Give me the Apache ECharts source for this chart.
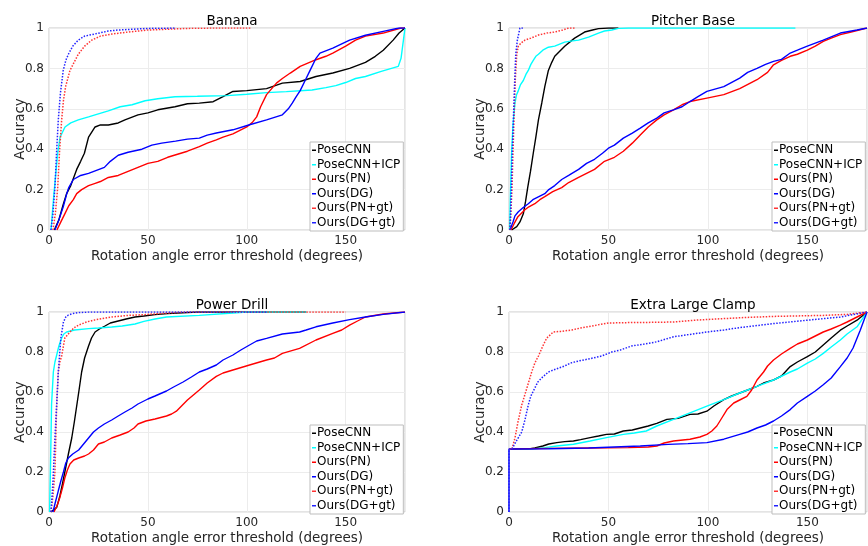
<!DOCTYPE html>
<html>
<head>
<meta charset="utf-8">
<script src="https://cdn.jsdelivr.net/npm/echarts@6/dist/echarts.min.js"></script>
<style>
html,body{margin:0;padding:0;background:#fff;}
#chart{width:868px;height:546px;}
</style>
</head>
<body>
<div id="chart"></div>
<script>
// ---- Data (x = rotation error threshold in degrees, y = accuracy) ----
const seriesNames = ['PoseCNN','PoseCNN+ICP','Ours(PN)','Ours(DG)','Ours(PN+gt)','Ours(DG+gt)'];
const panelTitles = ['Banana','Pitcher Base','Power Drill','Extra Large Clamp'];
const xTicks = [0, 50, 100, 150];
const yTicks = [0, 0.2, 0.4, 0.6, 0.8, 1];

// Banana
const banana_PoseCNN = [[2.7,0],[5,0.05],[7,0.12],[8.9,0.18],[11,0.22],[14,0.30],[16,0.34],[17.9,0.38],[20,0.46],[23.3,0.51],[26,0.52],[30,0.52],[35,0.53],[38.4,0.545],[45,0.57],[50,0.58],[55,0.595],[63.7,0.61],[70,0.625],[76,0.628],[83,0.635],[88,0.66],[93,0.686],[100,0.69],[110,0.70],[118,0.727],[127,0.735],[135,0.76],[143.5,0.777],[152,0.80],[160,0.83],[165,0.86],[169,0.89],[174,0.94],[177,0.975],[180,1]];
const banana_PoseCNNICP = [[1,0],[2.5,0.18],[4.4,0.38],[5.6,0.46],[8.1,0.51],[11,0.53],[14.8,0.545],[20,0.56],[23.3,0.57],[30,0.59],[36,0.61],[42,0.62],[48.6,0.64],[55,0.65],[63.7,0.66],[75,0.662],[90,0.665],[100,0.672],[110,0.68],[120,0.685],[133,0.693],[140,0.705],[145,0.715],[150,0.73],[155,0.75],[160,0.76],[168,0.785],[176.6,0.81],[178,0.85],[180,1]];
const banana_PN = [[4,0],[6,0.04],[8,0.08],[10,0.12],[12.3,0.15],[14,0.18],[16.5,0.20],[20,0.22],[23,0.23],[26,0.24],[30,0.26],[35,0.27],[40,0.29],[45,0.31],[50,0.33],[55,0.34],[60,0.36],[65,0.375],[70,0.39],[76,0.413],[80,0.43],[84.6,0.446],[88,0.46],[93,0.476],[100,0.51],[103,0.535],[105,0.56],[107,0.61],[110,0.67],[115,0.727],[118,0.75],[122,0.777],[127,0.81],[135,0.843],[140,0.86],[143.5,0.876],[150,0.91],[155,0.94],[160,0.96],[169,0.975],[178,1],[180,1]];
const banana_DG = [[3,0],[5,0.05],[7.2,0.115],[9,0.18],[10,0.21],[12.3,0.25],[16,0.27],[20,0.28],[24,0.295],[28,0.31],[31,0.34],[35,0.37],[40,0.385],[47,0.40],[52,0.42],[57,0.43],[64,0.44],[70,0.45],[76,0.455],[80,0.47],[84.6,0.48],[93,0.496],[101,0.52],[110,0.545],[118,0.57],[121,0.60],[123,0.628],[125,0.66],[127,0.69],[130,0.75],[132,0.79],[135,0.85],[137,0.876],[143.5,0.90],[152,0.94],[160,0.964],[169,0.983],[177,1],[180,1]];
const banana_PNgt = [[2,0],[3.2,0.08],[4.4,0.21],[5.4,0.40],[6.4,0.545],[7.3,0.64],[8.4,0.71],[10.6,0.79],[14.8,0.87],[18,0.91],[21.6,0.94],[26,0.96],[31.7,0.97],[40,0.98],[50,0.99],[70,0.998],[85,1],[102,1]];
const banana_DGgt = [[1,0],[2,0.08],[3,0.21],[3.8,0.38],[4.7,0.545],[5.8,0.68],[7.2,0.79],[8.5,0.84],[9.8,0.87],[12,0.91],[14.8,0.94],[18,0.96],[23,0.97],[30,0.985],[35,0.99],[50,0.998],[64,1]];

// Pitcher Base
const pitcher_PoseCNN = [[1.3,0],[3.9,0.017],[5.5,0.04],[7.2,0.08],[8.3,0.14],[9.4,0.21],[10.8,0.29],[12.2,0.38],[13.5,0.46],[14.8,0.545],[16.5,0.63],[18,0.71],[19.8,0.79],[21.5,0.83],[23,0.86],[25.5,0.885],[28,0.91],[30.5,0.93],[33,0.95],[35.5,0.965],[38,0.98],[42,0.99],[45,0.997],[50,1],[55,1]];
const pitcher_PoseCNNICP = [[0.3,0],[0.8,0.2],[1.3,0.38],[2,0.52],[3,0.63],[3.8,0.67],[4.7,0.69],[5.8,0.72],[7.2,0.74],[8.5,0.77],[9.7,0.79],[11,0.82],[12.2,0.84],[13.5,0.86],[14.8,0.87],[17,0.89],[19.8,0.905],[23,0.91],[28,0.93],[31,0.935],[35,0.94],[40,0.955],[45,0.975],[48,0.985],[51.7,0.99],[55,0.998],[60,1],[144,1]];
const pitcher_PN = [[1,0],[2.5,0.03],[4.5,0.066],[8,0.10],[10,0.115],[13,0.13],[15.5,0.15],[18,0.165],[22,0.19],[26.5,0.21],[30,0.235],[35,0.26],[39,0.28],[43,0.30],[48,0.34],[53,0.36],[57.5,0.39],[62,0.43],[66,0.47],[70,0.51],[74.3,0.545],[78,0.57],[82.7,0.595],[87,0.62],[91,0.636],[99.5,0.653],[108,0.67],[116,0.70],[124.7,0.744],[130,0.78],[133,0.818],[137,0.84],[141.4,0.86],[145,0.87],[150,0.89],[154,0.91],[158,0.934],[162,0.95],[166.6,0.967],[172,0.98],[180,1]];
const pitcher_DG = [[0.5,0],[2,0.04],[3,0.07],[4.7,0.09],[7,0.11],[9.7,0.13],[12,0.15],[15,0.165],[18,0.18],[20,0.20],[23,0.22],[26.5,0.25],[30,0.27],[35,0.30],[39,0.33],[43,0.35],[47,0.38],[50,0.405],[53,0.42],[57.5,0.455],[62,0.48],[66,0.504],[70,0.53],[74.3,0.554],[78,0.58],[82.7,0.595],[87,0.61],[91,0.636],[95,0.66],[99.5,0.686],[108,0.71],[116,0.752],[120,0.78],[124.7,0.80],[129,0.82],[133,0.835],[137,0.845],[141.4,0.876],[145,0.89],[150,0.91],[158,0.94],[166.6,0.975],[175,0.99],[180,1]];
const pitcher_PNgt = [[0.5,0],[1.5,0.2],[2,0.38],[2.5,0.545],[3.2,0.75],[3.9,0.87],[4.7,0.91],[6,0.925],[8,0.94],[11,0.95],[14.8,0.965],[19,0.975],[23,0.98],[27,0.99],[30,1],[33,1]];
const pitcher_DGgt = [[0.5,0],[1,0.15],[1.6,0.38],[2.2,0.545],[2.8,0.72],[3.4,0.87],[4.2,0.94],[5.5,1],[7,1]];

// Power Drill
const drill_PoseCNN = [[1,0],[3.9,0.023],[5.5,0.08],[6.8,0.14],[8,0.2],[9.8,0.29],[11.5,0.37],[12.8,0.45],[14,0.53],[15.2,0.61],[16.5,0.70],[18,0.77],[20,0.83],[21.5,0.87],[23.3,0.9],[25.5,0.915],[28.3,0.93],[31,0.945],[35,0.955],[39,0.965],[43.5,0.975],[48,0.98],[53.6,0.987],[60,0.992],[75,1],[130,1]];
const drill_PoseCNNICP = [[0.3,0],[0.8,0.25],[1.3,0.54],[2.2,0.70],[3,0.75],[3.9,0.785],[5,0.83],[6.4,0.87],[7.5,0.89],[8.9,0.90],[13,0.91],[20,0.917],[25,0.92],[31.7,0.925],[37,0.93],[43.5,0.94],[48,0.953],[53.6,0.965],[59.4,0.975],[76,0.983],[93,0.995],[100,1],[130,1]];
const drill_PN = [[2.5,0],[4,0.03],[5.5,0.073],[6.8,0.12],[8,0.17],[9.3,0.21],[10.6,0.24],[12.5,0.26],[15,0.27],[18,0.28],[20,0.29],[22.5,0.31],[25,0.34],[28,0.35],[31.7,0.37],[36,0.385],[40,0.40],[43,0.42],[45,0.44],[49,0.455],[53.6,0.465],[59.4,0.48],[62,0.49],[64.4,0.504],[67,0.53],[70,0.56],[73,0.585],[76,0.61],[80,0.645],[84.6,0.678],[88,0.695],[93,0.71],[101.4,0.735],[110,0.76],[114,0.77],[118,0.793],[126.7,0.818],[135,0.86],[143.5,0.893],[148,0.91],[152,0.934],[156,0.955],[160,0.975],[169,0.99],[180,1]];
const drill_DG = [[2,0],[3,0.04],[4.7,0.106],[6,0.155],[7.3,0.2],[8.5,0.245],[9.8,0.27],[12,0.29],[15,0.31],[17.5,0.34],[20,0.37],[22.5,0.40],[25,0.42],[28,0.44],[31.7,0.46],[35,0.48],[38.4,0.50],[42,0.52],[45,0.54],[50,0.565],[53.6,0.58],[59.4,0.605],[63,0.625],[67.8,0.65],[72,0.675],[76,0.70],[80,0.715],[84.6,0.735],[88,0.76],[93,0.785],[97,0.81],[101.4,0.835],[105,0.855],[110,0.868],[118,0.89],[126.7,0.90],[130,0.91],[135,0.926],[143.5,0.945],[152,0.962],[160,0.975],[169,0.988],[180,1]];
const drill_PNgt = [[1,0],[2,0.08],[3,0.2],[3.9,0.54],[4.7,0.70],[5.5,0.75],[6.4,0.78],[8,0.87],[10.6,0.90],[12.5,0.92],[15,0.935],[19,0.95],[23,0.96],[31.7,0.975],[40,0.983],[48.6,0.987],[60,0.995],[70,1],[150,1]];
const drill_DGgt = [[1,0],[2,0.15],[3,0.37],[4,0.56],[4.7,0.70],[6,0.87],[7.3,0.95],[8.5,0.975],[9.8,0.985],[12,0.992],[14.8,0.997],[20,1],[110,1]];

// Extra Large Clamp
const clamp_PoseCNN = [[0,0.315],[10,0.315],[13,0.32],[17,0.33],[20,0.34],[24,0.347],[28,0.352],[32.4,0.355],[36,0.362],[40.8,0.372],[45,0.38],[49,0.388],[53,0.39],[57.5,0.405],[62,0.41],[66,0.42],[70,0.43],[74.3,0.443],[79.4,0.463],[85,0.468],[91,0.488],[95,0.49],[99.5,0.504],[103,0.53],[108,0.562],[112,0.58],[116,0.595],[120,0.61],[124.7,0.628],[128,0.645],[133,0.66],[137,0.68],[141.4,0.727],[145,0.75],[150,0.777],[154,0.80],[158,0.835],[162,0.87],[166.6,0.909],[170,0.93],[175,0.959],[180,1]];
const clamp_PoseCNNICP = [[0,0.315],[12,0.315],[18,0.322],[24,0.33],[32.4,0.339],[40.8,0.355],[49,0.372],[57.5,0.388],[63,0.395],[69,0.405],[74.3,0.43],[82.7,0.463],[91,0.496],[99.5,0.529],[108,0.562],[116,0.595],[124.7,0.628],[133,0.66],[141.4,0.70],[145,0.715],[150,0.744],[154,0.765],[158,0.793],[162,0.825],[166.6,0.86],[170,0.89],[175,0.926],[180,1]];
const clamp_PN = [[0,0.315],[20,0.318],[40,0.32],[60,0.322],[70,0.325],[74.3,0.33],[78,0.345],[82.7,0.355],[91,0.364],[96,0.375],[99.5,0.388],[102,0.405],[104.5,0.43],[107,0.47],[109.6,0.512],[113,0.545],[116,0.56],[119.6,0.578],[122,0.61],[124.7,0.66],[128,0.70],[130,0.73],[133,0.76],[137,0.79],[141.4,0.818],[145,0.84],[150,0.86],[154,0.88],[158,0.90],[162,0.915],[166.6,0.934],[170,0.95],[175,0.975],[180,1]];
const clamp_DG = [[0,0],[0,0.315],[20,0.316],[40,0.32],[66,0.33],[80,0.338],[90,0.342],[99.5,0.347],[108,0.364],[116,0.388],[120,0.40],[124.7,0.42],[129,0.435],[133,0.455],[137,0.48],[141.4,0.512],[145,0.545],[150,0.578],[154,0.605],[158,0.636],[162,0.67],[166.6,0.727],[170,0.77],[173,0.82],[176.6,0.909],[180,1]];
const clamp_PNgt = [[0,0.315],[1.5,0.315],[3,0.37],[4.5,0.45],[6.4,0.535],[9,0.62],[11.4,0.70],[13,0.745],[14.8,0.78],[17,0.83],[19,0.87],[22.3,0.9],[26,0.903],[31.5,0.91],[36,0.92],[41.6,0.93],[50,0.945],[60,0.947],[70,0.948],[82.7,0.95],[95,0.96],[108,0.967],[120,0.973],[133,0.978],[158,0.983],[170,0.988],[180,1]];
const clamp_DGgt = [[0,0],[0,0.315],[1.5,0.315],[4,0.36],[6.4,0.40],[8,0.46],[9.7,0.535],[11,0.58],[13,0.62],[14.5,0.65],[16.4,0.67],[19.8,0.70],[22.3,0.71],[25,0.72],[28,0.73],[31,0.745],[35,0.755],[40,0.765],[46.6,0.78],[51.7,0.80],[56,0.81],[61.7,0.83],[68,0.84],[74.3,0.851],[82.7,0.876],[91,0.888],[99.5,0.90],[108,0.91],[116,0.922],[133,0.942],[150,0.959],[166.6,0.975],[180,1]];

const panelData = [
  [banana_PoseCNN, banana_PoseCNNICP, banana_PN, banana_DG, banana_PNgt, banana_DGgt],
  [pitcher_PoseCNN, pitcher_PoseCNNICP, pitcher_PN, pitcher_DG, pitcher_PNgt, pitcher_DGgt],
  [drill_PoseCNN, drill_PoseCNNICP, drill_PN, drill_DG, drill_PNgt, drill_DGgt],
  [clamp_PoseCNN, clamp_PoseCNNICP, clamp_PN, clamp_DG, clamp_PNgt, clamp_DGgt]
];

// ---- Styling / layout ----
const colors = ['#000000','#00ffff','#ff0000','#0000ff','#ff3333','#2222ff'];
const dashed = [false,false,false,false,true,true];
const grids = [
  {left:49, top:28, width:356, height:202},
  {left:509, top:28, width:358, height:202},
  {left:49, top:312, width:356, height:201},
  {left:509, top:312, width:358, height:201}
];
const FONT = 'DejaVu Sans';

const option = {
  animation:false,
  backgroundColor:'#fff',
  textStyle:{fontFamily:FONT},
  title: grids.map((g,i)=>({
    text: panelTitles[i],
    left: g.left + g.width/2,
    top: g.top - 19,
    textAlign:'center',
    textStyle:{fontFamily:FONT, fontSize:13.5, fontWeight:'normal', color:'#000'}
  })),
  grid: grids.map(g=>Object.assign({show:true, borderColor:'#c8c8c8', borderWidth:1, backgroundColor:'#fff'}, g)),
  legend: grids.map((g,i)=>({
    orient:'vertical',
    left: g.left + g.width - 95,
    top: g.top + g.height - 88,
    data: seriesNames,
    icon:'rect',
    itemWidth:4,
    itemHeight:1.5,
    itemGap:0,
    padding:[1,3,1,2],
    borderColor:'#bdbdbd',
    borderWidth:1,
    backgroundColor:'#fff',
    selectedMode:false,
    textStyle:{fontFamily:FONT, fontSize:12, color:'#000', lineHeight:14.5, padding:[0,0,0,-4]}
  })),
  xAxis: grids.map((g,i)=>({
    type:'value', gridIndex:i, min:0, max:180, interval:50,
    name:'Rotation angle error threshold (degrees)',
    nameLocation:'middle', nameGap:19, nameMoveOverlap:false,
    nameTextStyle:{fontFamily:FONT, fontSize:13.5, color:'#262626'},
    axisLine:{show:false}, axisTick:{show:false},
    axisLabel:{fontFamily:FONT, fontSize:12, color:'#262626', margin:5, showMaxLabel:false,
      formatter:v=> xTicks.includes(v) ? String(v) : ''},
    splitLine:{show:true, lineStyle:{color:'#ececec', width:1}}
  })),
  yAxis: grids.map((g,i)=>({
    type:'value', gridIndex:i, min:0, max:1, interval:0.2,
    name:'Accuracy', nameLocation:'middle', nameGap:22, nameMoveOverlap:false,
    nameTextStyle:{fontFamily:FONT, fontSize:13.5, color:'#262626'},
    axisLine:{show:false}, axisTick:{show:false},
    axisLabel:{fontFamily:FONT, fontSize:12, color:'#262626', margin:5,
      formatter:v=>{const t=yTicks.find(k=>Math.abs(k-v)<1e-9); return t===undefined?'':String(t);}},
    splitLine:{show:true, lineStyle:{color:'#ececec', width:1}}
  })),
  series: []
};

panelData.forEach((set,pi)=>{
  set.forEach((pts,si)=>{
    option.series.push({
      type:'line', name:seriesNames[si], xAxisIndex:pi, yAxisIndex:pi,
      data:pts, showSymbol:false, symbol:'none', smooth:false,
      itemStyle:{color:colors[si]},
      lineStyle:{color:colors[si], width:dashed[si]?1.5:1.4, type:dashed[si]?[1.5,1.5]:'solid'},
      z: 2+si
    });
  });
});

const chart = echarts.init(document.getElementById('chart'), null, {renderer:'canvas'});
chart.setOption(option);
</script>
</body>
</html>
